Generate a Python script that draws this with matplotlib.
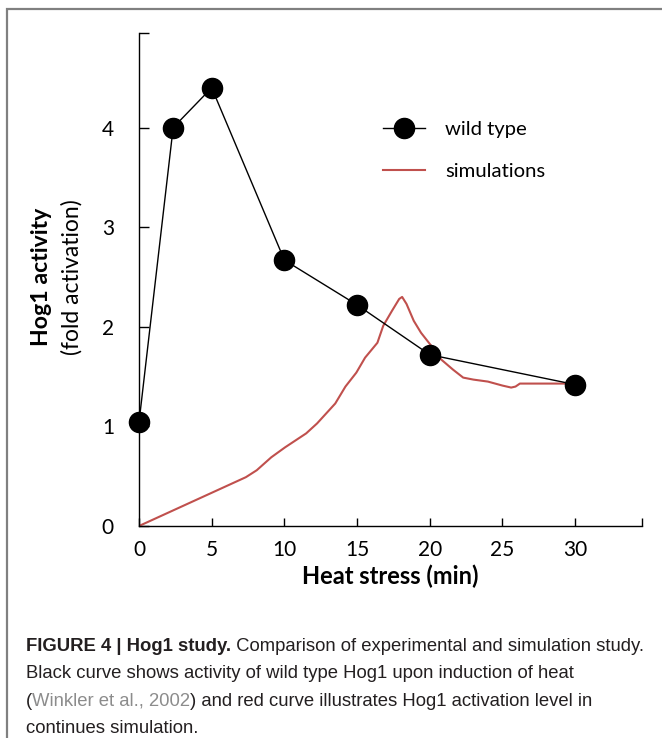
import matplotlib
matplotlib.use('Agg')
import matplotlib.pyplot as plt
from matplotlib.patches import Rectangle

# wild type measurements (Winkler et al.)
wt_time = [0, 2.35, 5, 10, 15, 20, 30]
wt_activity = [1.04, 4.0, 4.4, 2.67, 2.22, 1.72, 1.42]

# simulated activation curve
sim_time = [0, 7.35, 8.1, 9.1, 10.05, 11.5, 12.25, 13.5, 14.2, 14.95, 15.55,
            16.4, 16.8, 17.4, 17.9, 18.1, 18.4, 18.9, 19.4, 20.1, 20.8, 21.6,
            22.3, 23.0, 24.0, 25.0, 25.6, 25.9, 26.2, 27.9, 29.9]
sim_activity = [0, 0.49, 0.56, 0.69, 0.79, 0.93, 1.03, 1.23, 1.40, 1.54, 1.69,
                1.84, 2.01, 2.16, 2.28, 2.30, 2.23, 2.06, 1.94, 1.81, 1.67, 1.57,
                1.49, 1.47, 1.45, 1.41, 1.39, 1.40, 1.43, 1.43, 1.43]

x_ticks = [0, 5, 10, 15, 20, 25, 30]
y_ticks = [0, 1, 2, 3, 4]
x_max = 34.6
y_max = 4.95

caption = [
    [("FIGURE 4 | Hog1 study.", 'bold', '#231f20'),
     (" Comparison of experimental and simulation study.", 'normal', '#231f20')],
    [("Black curve shows activity of wild type Hog1 upon induction of heat", 'normal', '#231f20')],
    [("(", 'normal', '#231f20'),
     ("Winkler et al., 2002", 'normal', '#8c8c8c'),
     (") and red curve illustrates Hog1 activation level in", 'normal', '#231f20')],
    [("continues simulation.", 'normal', '#231f20')],
]

W, H = 662, 738
fig = plt.figure(figsize=(W / 100, H / 100), dpi=100)
plt.rcParams['font.family'] = ['Lato', 'DejaVu Sans']

ax = fig.add_axes([139 / W, 1 - 526 / H, (642 - 139) / W, (526 - 33) / H])
ax.plot(sim_time, sim_activity, color='#c0504d', lw=1.5, label='simulations', zorder=2)
ax.plot(wt_time, wt_activity, color='black', lw=1.0, marker='o', markersize=14.5,
        label='wild type', zorder=3, clip_on=False)

ax.set_xlim(0, x_max)
ax.set_ylim(0, y_max)
for s in ['top', 'right']:
    ax.spines[s].set_visible(False)
for s in ['left', 'bottom']:
    ax.spines[s].set_linewidth(1.0)

ax.set_xticks(x_ticks + [x_max])
ax.set_xticklabels([str(t) for t in x_ticks] + [''])
ax.set_yticks(y_ticks + [y_max])
ax.set_yticklabels([str(t) for t in y_ticks] + [''])
ax.tick_params(axis='x', direction='in', length=6, width=1.0, pad=10, labelsize=15)
ax.tick_params(axis='y', direction='in', length=7.5, width=1.0, pad=18, labelsize=15)

ax.set_xlabel('Heat stress (min)', fontsize=17, fontweight='bold', labelpad=3)

fig.text(41 / W, 1 - 277 / H, 'Hog1 activity', rotation=90, fontsize=16.6,
         fontweight='bold', ha='center', va='center')
fig.text(72 / W, 1 - 277 / H, '(fold activation)', rotation=90, fontsize=16.5,
         ha='center', va='center')

handles, labels = ax.get_legend_handles_labels()
ax.legend(handles[::-1], labels[::-1], loc='upper left',
          bbox_to_anchor=(383 / W, 1 - 121 / H), bbox_transform=fig.transFigure,
          frameon=False, fontsize=14.6, handlelength=2.05, handletextpad=1.0,
          labelspacing=1.2, borderpad=0, borderaxespad=0, numpoints=1)

# grey frame round the figure and caption
fig.add_artist(Rectangle((7 / W, -0.1), 1.2, 1 - 9 / H + 0.1, transform=fig.transFigure,
                         fill=False, edgecolor='#808080', lw=1.6))

# caption, pieces laid next to each other
renderer = fig.canvas.get_renderer()
cap_font = ['Liberation Sans', 'DejaVu Sans']
baselines = [651, 678.5, 706, 733]
for line, base in zip(caption, baselines):
    x = 26 / W
    for txt, weight, col in line:
        t = fig.text(x, 1 - base / H, txt, fontsize=13.3, fontweight=weight,
                     color=col, family=cap_font, va='baseline', ha='left')
        bb = t.get_window_extent(renderer)
        x = bb.x1 / W

fig.savefig('out.png', dpi=100)
